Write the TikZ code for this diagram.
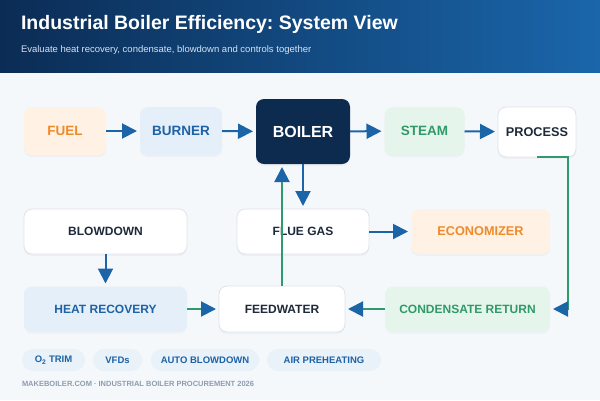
\documentclass[tikz,border=0pt]{standalone}
\usepackage{fontspec}
\setmainfont{Liberation Sans}
\usetikzlibrary{arrows.meta,shadows}
\frenchspacing

\definecolor{pagebg}{HTML}{F5F8FB}
\definecolor{hdrleft}{HTML}{0B2C55}
\definecolor{hdrright}{HTML}{1A66AA}
\definecolor{subtxt}{HTML}{D3E2F2}
\definecolor{navy}{HTML}{0D2B4E}
\definecolor{orangefill}{HTML}{FFF1E3}
\definecolor{orangetxt}{HTML}{EF8A2B}
\definecolor{bluefill}{HTML}{E5EFF9}
\definecolor{bluetxt}{HTML}{1D62A5}
\definecolor{greenfill}{HTML}{E6F5EC}
\definecolor{greentxt}{HTML}{2F9A68}
\definecolor{darktxt}{HTML}{1E2A3A}
\definecolor{edgegray}{HTML}{DDE3EA}
\definecolor{flowblue}{HTML}{1B64A8}
\definecolor{flowgreen}{HTML}{2F9A6E}
\definecolor{chipfill}{HTML}{E9F1F9}
\definecolor{foottxt}{HTML}{8C9CB1}

\begin{document}
\begin{tikzpicture}[x={(1pt,0pt)},y={(0pt,-1pt)},every node/.style={inner sep=0pt, outer sep=0pt, font=\bfseries},
  box/.style={rounded corners=8pt, drop shadow={opacity=0.06, shadow xshift=0pt, shadow yshift=-2pt}},
  toprow/.style={box, minimum height=48pt, font=\bfseries\fontsize{13.5}{16}\selectfont},
  lowrow/.style={box, minimum height=45pt, font=\bfseries\fontsize{12}{14}\selectfont},
  orangebox/.style={fill=orangefill, text=orangetxt},
  bluebox/.style={fill=bluefill, text=bluetxt},
  greenbox/.style={fill=greenfill, text=greentxt},
  whitebox/.style={fill=white, draw=edgegray, line width=0.8pt, text=darktxt},
  chip/.style={fill=chipfill, text=bluetxt, rounded corners=11pt, minimum height=22pt, font=\bfseries\fontsize{9.5}{11}\selectfont},
  flow/.style={line width=2pt, shorten >=3pt, -{Triangle[length=15pt,width=15pt,color=flowblue]}},
  blueflow/.style={flow, draw=flowblue},
  greenflow/.style={flow, draw=flowgreen}]

\fill[pagebg] (0,0) rectangle (600,400);
\shade[left color=hdrleft, right color=hdrright] (0,0) rectangle (600,72);
\node[anchor=west, text=white, font=\bfseries\fontsize{19.5}{22}\selectfont] (title) at (21,24) {Industrial Boiler Efficiency: System View};
\node[anchor=west, text=subtxt, font=\fontsize{9.5}{11}\selectfont] (subtitle) at (21,50) {Evaluate heat recovery, condensate, blowdown and controls together};

\node[toprow, orangebox, minimum width=82pt] (fuel) at (65,131) {FUEL};
\node[toprow, bluebox, minimum width=82pt] (burner) at (181,131) {BURNER};
\node[box, fill=navy, text=white, minimum width=94pt, minimum height=65pt, font=\bfseries\fontsize{16}{18}\selectfont] (boiler) at (303,131.5) {BOILER};
\node[toprow, greenbox, minimum width=80pt] (steam) at (424.5,131) {STEAM};
\node[toprow, whitebox, minimum width=78pt, minimum height=50pt, font=\bfseries\fontsize{12.7}{15}\selectfont] (process) at (537,132) {PROCESS};

\node[lowrow, whitebox, minimum width=163pt] (blowdown) at (105.5,231.5) {BLOWDOWN};
\node[lowrow, whitebox, minimum width=132pt] (flue) at (303,231.5) {FLUE GAS};
\node[lowrow, orangebox, minimum width=139pt, font=\bfseries\fontsize{12.7}{15}\selectfont] (economizer) at (480.5,231.5) {ECONOMIZER};

\node[lowrow, bluebox, minimum width=163pt] (heatrec) at (105.5,309) {HEAT RECOVERY};
\node[lowrow, whitebox, minimum width=126pt, minimum height=46pt] (feedwater) at (282,309) {FEEDWATER};
\node[lowrow, greenbox, minimum width=165pt] (condensate) at (467.5,309) {CONDENSATE RETURN};

\draw[blueflow] (fuel) -- (burner);
\draw[blueflow] (burner) -- (boiler);
\draw[blueflow] (boiler) -- (steam);
\draw[blueflow] (steam) -- (process);
\draw[blueflow] (boiler.south) -- (flue.north);
\draw[blueflow] (flue) -- (economizer);
\draw[blueflow] (blowdown) -- (heatrec);
\draw[greenflow] (heatrec) -- (feedwater);
\draw[greenflow] (condensate) -- (feedwater);
\draw[greenflow] (feedwater.north) -- (feedwater.north |- boiler.south);
\coordinate (procturn) at (568,157);
\draw[greenflow] (process.south) -- (procturn) |- (condensate.east);

\node[chip, minimum width=63pt] (otrim) at (53.5,360) {O\textsubscript{2} TRIM};
\node[chip, minimum width=49pt] (vfds) at (117.5,360) {VFDs};
\node[chip, minimum width=108pt] (autoblow) at (205,360) {AUTO BLOWDOWN};
\node[chip, minimum width=114pt] (airpre) at (324,360) {AIR PREHEATING};

\node[anchor=west, text=foottxt, font=\bfseries\fontsize{7.5}{9}\selectfont] (footer) at (22,384) {MAKEBOILER.COM · INDUSTRIAL BOILER PROCUREMENT 2026};
\end{tikzpicture}
\end{document}
